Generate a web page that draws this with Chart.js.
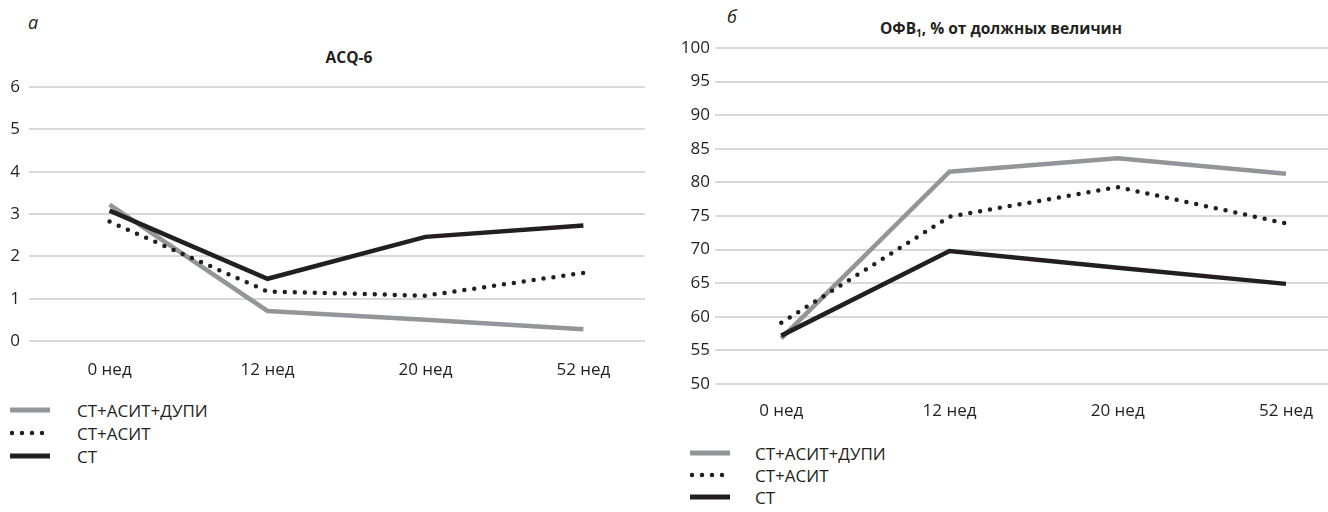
<!DOCTYPE html>
<html>
<head>
<meta charset="utf-8">
<script src="https://cdn.jsdelivr.net/npm/chart.js@4.4.1/dist/chart.umd.min.js"></script>
<style>
  body { margin: 0; width: 1328px; height: 512px; background: #fff; position: relative; overflow: hidden;
         font-family: "Open Sans", sans-serif; color: #231f20; }
  .abs { position: absolute; }
  .letter { font-style: italic; font-size: 18px; line-height: 22px; }
  .title { font-weight: bold; font-size: 15.5px; line-height: 22px; white-space: nowrap; transform: translateX(-50%); }
  .title sub { font-size: 10px; vertical-align: -3px; line-height: 0; }
  .legend-row { position: absolute; height: 22px; display: flex; align-items: center; white-space: nowrap; font-size: 17px; }
  .legend-row svg { flex: none; }
</style>
</head>
<body>

<div class="abs letter" style="left:28px; top:11px;">а</div>
<div class="abs title" style="left:349px; top:46px;">ACQ-6</div>
<div class="abs" style="left:0; top:0; width:664px; height:392px;"><canvas id="acqChart"></canvas></div>
<div id="acqLegend"></div>

<div class="abs letter" style="left:727px; top:5px;">б</div>
<div class="abs title" style="left:1001px; top:17px;">ОФВ<sub>1</sub>, % от должных величин</div>
<div class="abs" style="left:664px; top:0; width:664px; height:432px;"><canvas id="fevChart"></canvas></div>
<div id="fevLegend"></div>

<script>
// categories and series
const weeks = ['0 нед', '12 нед', '20 нед', '52 нед'];
const seriesNames = ['СТ+АСИТ+ДУПИ', 'СТ+АСИТ', 'СТ'];

const acqDupi = [3.22, 0.71, 0.50, 0.28];
const acqAsit = [2.82, 1.17, 1.07, 1.61];
const acqSt   = [3.08, 1.47, 2.46, 2.73];

const fevDupi = [56.8, 81.6, 83.6, 81.3];
const fevAsit = [59.1, 74.9, 79.3, 73.9];
const fevSt   = [57.2, 69.8, 67.3, 64.9];

const acqTicks = [0, 1, 2, 3, 4, 5, 6];
const fevTicks = [50, 55, 60, 65, 70, 75, 80, 85, 90, 95, 100];

// line looks, same order as seriesNames
const looks = [
  { color: '#939598', dash: [] },
  { color: '#231f20', dash: [0, 10] },
  { color: '#231f20', dash: [] }
];

const tickFont = { family: '"Open Sans", sans-serif', size: 17 };

function makeSets(seriesValues) {
  return seriesValues.map((vals, k) => ({
    label: seriesNames[k],
    data: vals.map((v, i) => ({ x: i, y: v })),
    borderColor: looks[k].color,
    backgroundColor: looks[k].color,
    borderDash: looks[k].dash,
    borderCapStyle: looks[k].dash.length ? 'round' : 'butt',
    borderWidth: 4.5,
    pointRadius: 0,
    tension: 0,
    order: 3 - k
  }));
}

function makeConfig(sets, opt) {
  return {
    type: 'line',
    data: { datasets: sets },
    options: {
      responsive: true,
      maintainAspectRatio: false,
      animation: false,
      events: [],
      layout: { padding: { top: opt.top, right: opt.right, left: 0, bottom: 0 } },
      plugins: { legend: { display: false }, tooltip: { enabled: false } },
      scales: {
        x: {
          type: 'linear',
          min: opt.xMin,
          max: opt.xMax,
          grid: { display: false },
          border: { display: false },
          afterBuildTicks: s => { s.ticks = weeks.map((w, i) => ({ value: i })); },
          afterFit: s => { s.height = opt.xHeight; },
          ticks: {
            autoSkip: false, maxRotation: 0, includeBounds: false,
            padding: opt.xPad, color: '#231f20', font: tickFont,
            callback: v => weeks[v]
          }
        },
        y: {
          min: opt.yTicks[0],
          max: opt.yTicks[opt.yTicks.length - 1],
          afterBuildTicks: s => { s.ticks = opt.yTicks.map(v => ({ value: v })); },
          afterFit: s => { s.width = opt.yWidth; },
          grid: { color: '#d9d9d9', lineWidth: 2, drawTicks: false },
          border: { display: false },
          ticks: { padding: opt.yPad, color: '#231f20', font: tickFont }
        }
      }
    }
  };
}

new Chart(document.getElementById('acqChart'), makeConfig(
  makeSets([acqDupi, acqAsit, acqSt]),
  { top: 87, right: 19, xMin: -0.51, xMax: 3.39, xHeight: 51, xPad: 11, yTicks: acqTicks, yWidth: 29, yPad: 9 }
));

new Chart(document.getElementById('fevChart'), makeConfig(
  makeSets([fevDupi, fevAsit, fevSt]),
  { top: 48, right: 0, xMin: -0.394, xMax: 3.25, xHeight: 48, xPad: 9, yTicks: fevTicks, yWidth: 51, yPad: 5 }
));

// legends, one row per series
function buildLegend(id, swatchLeft, textLeft, rowCenters) {
  const box = document.getElementById(id);
  seriesNames.forEach((name, k) => {
    const row = document.createElement('div');
    row.className = 'legend-row';
    row.style.left = swatchLeft + 'px';
    row.style.top = (rowCenters[k] - 11) + 'px';
    const dashed = looks[k].dash.length > 0;
    row.innerHTML =
      '<svg width="' + (textLeft - swatchLeft) + '" height="10">' +
      '<line x1="' + (dashed ? 2 : 0) + '" y1="5" x2="40" y2="5" stroke="' + looks[k].color + '" stroke-width="' +
      (dashed ? 4.5 : 5) + '"' + (dashed ? ' stroke-dasharray="0 10" stroke-linecap="round"' : '') + '/></svg>' +
      '<span>' + name + '</span>';
    box.appendChild(row);
  });
}
buildLegend('acqLegend', 10, 77, [410, 433, 456]);
buildLegend('fevLegend', 690, 755, [453, 475, 497]);
</script>
</body>
</html>
